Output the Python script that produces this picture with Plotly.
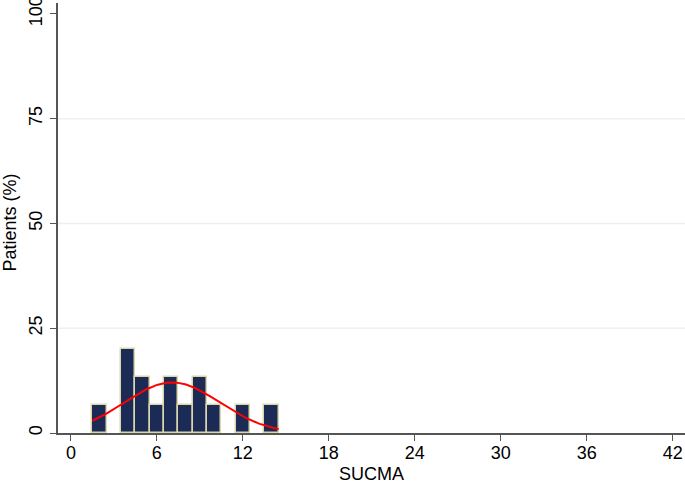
import numpy as np
import plotly.graph_objects as go

# SUCMA scores of the patients (bins of width 1)
sucma_values = [2, 4, 4, 4, 5, 5, 6, 7, 7, 8, 9, 9, 10, 12, 14]
x_ticks = [0, 6, 12, 18, 24, 30, 36, 42]
y_ticks = [0, 25, 50, 75, 100]
y_grid = [25, 50, 75]
x_title = "SUCMA"
y_title = "Patients (%)"

vals = np.array(sucma_values, dtype=float)
mu = vals.mean()
sd = vals.std(ddof=1)
bin_w = 1.0
xs = np.linspace(vals.min() - 0.5, vals.max() + 0.5, 200)
ys = 100 * bin_w * np.exp(-0.5 * ((xs - mu) / sd) ** 2) / (sd * np.sqrt(2 * np.pi))

fig = go.Figure()
fig.add_trace(go.Histogram(
    x=sucma_values,
    histnorm="percent",
    xbins=dict(start=1.5, end=14.5, size=bin_w),
    marker=dict(color="#1c2b55", line=dict(color="#dcd7ab", width=1.5)),
    showlegend=False,
))
fig.add_trace(go.Scatter(
    x=xs, y=ys, mode="lines",
    line=dict(color="#ff0000", width=2),
    showlegend=False,
))

# interior gridlines only (no gridline at 0 or 100)
for g in y_grid:
    fig.add_shape(type="line", xref="paper", yref="y", x0=0, x1=1, y0=g, y1=g,
                  line=dict(color="#eaf1f3", width=1.5), layer="below")

font_family = "Liberation Sans, Arial, sans-serif"
W, H = 685, 483
ml, mr, mt, mb = 58, 0, 3, 50
pw, ph = W - ml - mr, H - mt - mb
y_range = [0, 102.6]
fig.update_layout(
    width=W, height=H,
    margin=dict(l=ml, r=mr, t=mt, b=mb, autoexpand=False),
    paper_bgcolor="white", plot_bgcolor="white",
    font=dict(family=font_family, size=18, color="black"),
    bargap=0,
    annotations=[
        dict(text=x_title, xref="paper", yref="paper",
             x=(371 - ml) / pw, y=(H - mb - 473.5) / ph,
             xanchor="center", yanchor="middle", showarrow=False,
             font=dict(size=18)),
        dict(text=y_title, xref="paper", yref="paper",
             x=(9.5 - ml) / pw, y=(H - mb - 222) / ph,
             xanchor="center", yanchor="middle", showarrow=False,
             textangle=-90, font=dict(size=18)),
    ],
)
fig.update_xaxes(
    range=[-0.9, 42.86],
    tickvals=x_ticks,
    ticks="outside", ticklen=6, tickcolor="#555555", tickwidth=1.2,
    showline=True, linecolor="#555555", linewidth=1.5,
    showgrid=False, zeroline=False, automargin=False,
    ticklabeloverflow="allow", ticklabelstandoff=-3,
    tickfont=dict(size=18),
)
fig.update_yaxes(
    range=y_range,
    tickvals=y_ticks,
    tickangle=-90,
    ticks="outside", ticklen=6, tickcolor="#555555", tickwidth=1.2,
    showline=True, linecolor="#555555", linewidth=1.5,
    showgrid=False,
    zeroline=False, automargin=False,
    ticklabeloverflow="allow", ticklabelstandoff=1,
    tickfont=dict(size=18),
)

fig.write_html("out.html", config={"displayModeBar": False},
               post_script="document.body.style.margin='0';")
